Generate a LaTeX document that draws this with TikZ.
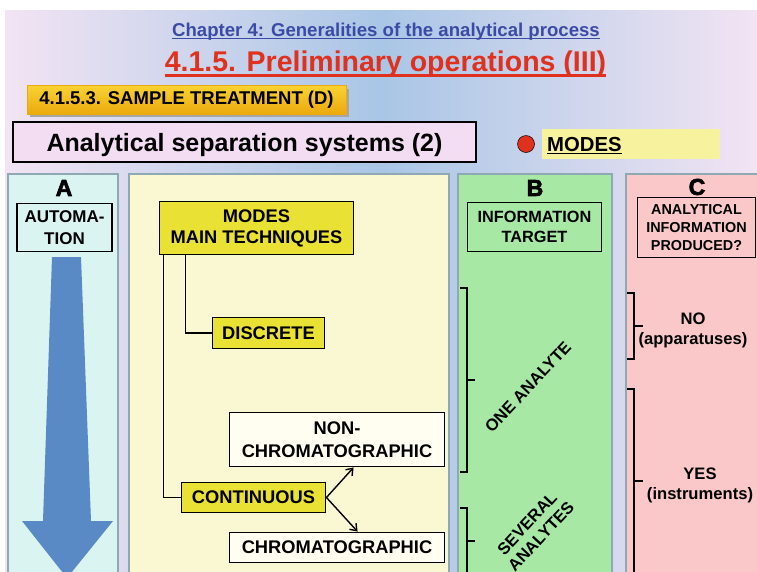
\documentclass[tikz,border=0pt]{standalone}
\usepackage{fontspec}
\setmainfont{Liberation Sans}
\newfontfamily\heavyfont{Liberation Sans}[UprightFont={* Bold}, FakeBold=3]
\usepackage{tikz}
\usetikzlibrary{arrows.meta, positioning}
\definecolor{bgpink}{HTML}{F2E4F3}
\definecolor{bgblue}{HTML}{A9C6E6}
\definecolor{panelline}{HTML}{8FA9B4}
\definecolor{panelA}{HTML}{D9F4F1}
\definecolor{panelM}{HTML}{FAF8D2}
\definecolor{panelB}{HTML}{A6E8A4}
\definecolor{panelC}{HTML}{FAC8C8}
\definecolor{modeyellow}{HTML}{E9E133}
\definecolor{paleyellow}{HTML}{F6F29E}
\definecolor{creamwhite}{HTML}{FFFEF0}
\definecolor{titlepink}{HTML}{F3DDF3}
\definecolor{goldtop}{HTML}{F9D233}
\definecolor{goldbot}{HTML}{EBA90C}
\definecolor{chapblue}{HTML}{3B4BA5}
\definecolor{titlered}{HTML}{E0301E}
\definecolor{arrowblue}{HTML}{5A8AC6}
\tikzset{
  panel/.style={draw=panelline, line width=1.5pt},
  framebox/.style={draw=black, line width=1.9pt, align=center, inner sep=0pt,
                   font=\bfseries\fontsize{18.3}{21}\selectfont},
  modebox/.style={framebox, fill=modeyellow},
  subbox/.style={framebox, fill=creamwhite},
  headbox/.style={framebox, line width=1.7pt},
  colletter/.style={inner sep=0pt, font=\heavyfont\fontsize{23}{23}\selectfont},
  sidetext/.style={align=center, inner sep=0pt, font=\bfseries\fontsize{16.6}{20}\selectfont},
  bracket/.style={line width=1.6pt},
  branch/.style={line width=1.8pt},
  pointer/.style={-{Straight Barb[length=6pt, width=9pt]}, line width=1.4pt},
}
\begin{document}
\begin{tikzpicture}[x=1pt, y=-1pt]
  \useasboundingbox (0,0) rectangle (757,571);
  \clip (0,0) rectangle (757,571);
  \fill[white] (0,0) rectangle (757,571);
  \shade[left color=bgpink, right color=bgpink, middle color=bgblue] (5,10) rectangle (757,571);

  % titles
  \node[anchor=base, inner sep=0pt, text=chapblue, font=\bfseries\fontsize{18.6}{20}\selectfont]
    (chap) at (386,36) {Chapter 4: Generalities of the analytical process};
  \draw[chapblue, line width=1.2pt] ([yshift=-2.5pt]chap.base west) -- ([yshift=-2.5pt]chap.base east);
  \node[anchor=base, inner sep=0pt, text=titlered, font=\bfseries\fontsize{28.5}{30}\selectfont]
    (title) at (385.5,71) {4.1.5. Preliminary operations (III)};
  \draw[titlered, line width=2.4pt] ([yshift=-4.5pt]title.base west) -- ([yshift=-4.5pt]title.base east);

  \fill[black!35] (30,89) rectangle (349,117);
  \node[draw=goldbot, line width=0.6pt, top color=goldtop, bottom color=goldbot,
        minimum width=319pt, minimum height=29pt, inner sep=0pt,
        font=\bfseries\fontsize{18.5}{20}\selectfont] (treat) at (186.5,100) {4.1.5.3. SAMPLE TREATMENT (D)};
  \node[framebox, line width=2.2pt, fill=titlepink, minimum width=463pt, minimum height=40pt,
        text height=18pt, text depth=0pt,
        font=\bfseries\fontsize{25}{26}\selectfont] (seps) at (244.5,142) {Analytical separation systems (2)};
  \node[circle, draw=black, line width=0.5pt, fill=titlered, minimum width=16pt, minimum height=17pt, inner sep=0pt]
    (dot) at (526,144) {};
  \node[fill=paleyellow, minimum width=178pt, minimum height=30pt, inner sep=0pt] (modesbg) at (631,144) {};
  \node[anchor=base west, inner sep=0pt, font=\bfseries\fontsize{20.3}{22}\selectfont]
    (modes) at (547,151) {MODES};
  \draw[line width=1.8pt] ([yshift=-2.5pt]modes.base west) -- ([yshift=-2.5pt]modes.base east);

  % column panels
  \draw[panel, fill=panelA] (8,174) rectangle (118,590);
  \draw[panel, fill=panelM] (129,174) rectangle (449,590);
  \draw[panel, fill=panelB] (458,174) rectangle (612,590);
  \draw[panel, fill=panelC] (626,174) rectangle (780,590);

  % column A
  \node[colletter] (letA) at (64,188) {A};
  \node[headbox, minimum width=95pt, minimum height=48pt, font=\bfseries\fontsize{17}{22}\selectfont]
    (autom) at (64.5,227.5) {AUTOMA-\\TION};
  \fill[arrowblue] (52,257) -- (81,257) -- (91,521) -- (113,521) -- (67,578)
    -- (22,521) -- (43,521) -- cycle;

  % middle column
  \node[modebox, minimum width=194pt, minimum height=53pt] (techs) at (256.5,228) {MODES\\MAIN TECHNIQUES};
  \node[modebox, minimum width=112pt, minimum height=31pt] (discrete) at (268.5,333) {DISCRETE};
  \node[subbox, minimum width=215pt, minimum height=54pt, font=\bfseries\fontsize{18.3}{23}\selectfont]
    (nonchrom) at (337,439.5) {NON-\\CHROMATOGRAPHIC};
  \node[modebox, minimum width=144pt, minimum height=30pt] (cont) at (253.5,497.5) {CONTINUOUS};
  \node[subbox, minimum width=215pt, minimum height=30pt] (chrom) at (337,547.5) {CHROMATOGRAPHIC};

  \draw[branch] ([xshift=27]techs.south west) |- (discrete.west);
  \draw[branch] ([xshift=5]techs.south west) |- (cont.west);
  \draw[pointer] (cont.east) -- ([xshift=125]nonchrom.south west);
  \draw[pointer] (cont.east) -- ([xshift=129]chrom.north west);

  % column B
  \node[colletter] (letB) at (535,188) {B};
  \node[headbox, minimum width=134pt, minimum height=49pt, font=\bfseries\fontsize{16.3}{20}\selectfont]
    (target) at (534.5,227) {INFORMATION\\TARGET};
  \draw[bracket] (460,288) -- (467,288) -- (467,472) -- (460,472);
  \draw[bracket] (467,380) -- (475,380);
  \node[sidetext, rotate=47] (one) at (528,387) {ONE ANALYTE};
  \draw[bracket] (460,508) -- (467,508) -- (467,590);
  \draw[bracket] (467,541) -- (475,541);
  \node[sidetext, rotate=47, font=\bfseries\fontsize{16.6}{19}\selectfont] (several) at (534,530) {SEVERAL\\ANALYTES};

  % column C
  \node[colletter] (letC) at (697,187) {C};
  \node[headbox, minimum width=118pt, minimum height=60pt, font=\bfseries\fontsize{14.4}{18.3}\selectfont]
    (produced) at (696.5,227.5) {ANALYTICAL\\INFORMATION\\PRODUCED?};
  \draw[bracket] (627,293) -- (634,293) -- (634,359) -- (627,359);
  \draw[bracket] (634,326) -- (643,326);
  \node[sidetext] (no) at (693,330) {NO\\(apparatuses)};
  \draw[bracket] (627,389) -- (634,389) -- (634,590);
  \draw[bracket] (634,481) -- (643,481);
  \node[sidetext] (yes) at (700,485) {YES\\(instruments)};
\end{tikzpicture}
\end{document}
